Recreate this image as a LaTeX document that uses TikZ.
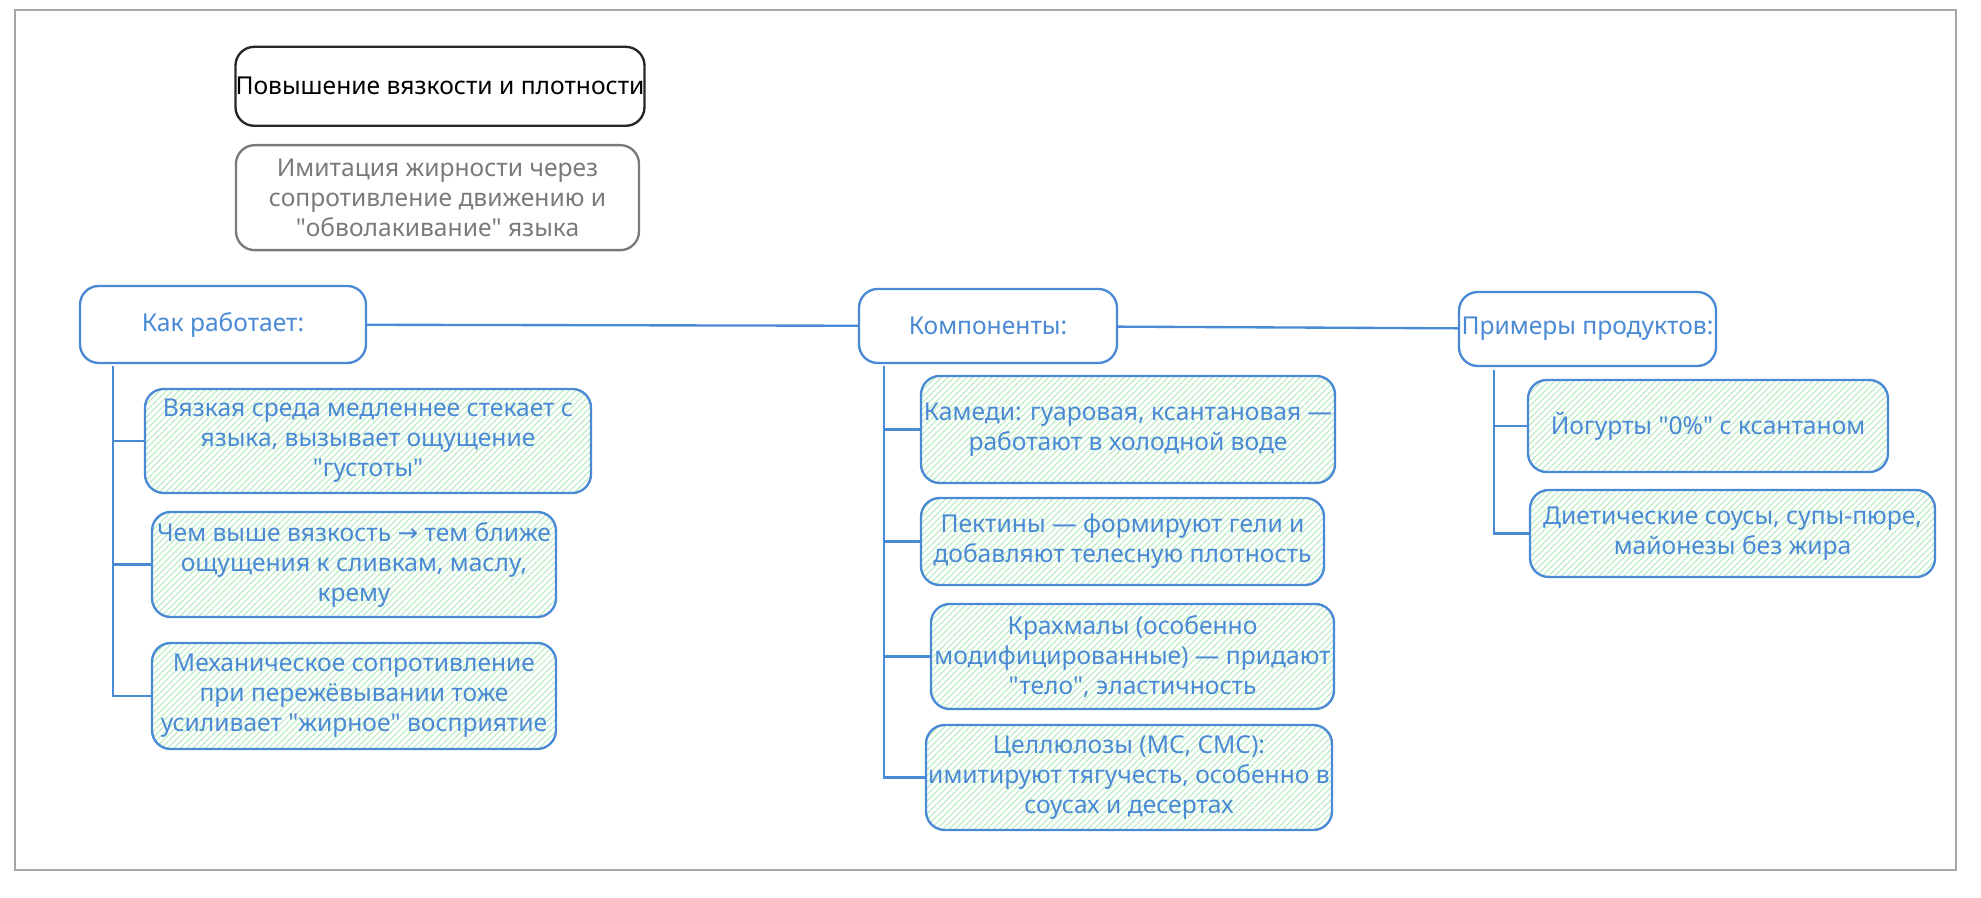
\documentclass[tikz,border=0pt]{standalone}
\usepackage{fontspec}
\setmainfont{Noto Sans}[Ligatures=TeXOff]
\newfontfamily\arrowfont{DejaVu Sans}
\usepackage{xcolor}
\usepackage{tikz}
\usetikzlibrary{patterns.meta}
\definecolor{linkblue}{HTML}{4A8AD4}
\definecolor{hatchgreen}{HTML}{B6EBBE}
\definecolor{notegray}{HTML}{7A7A7A}

\begin{document}
\begin{tikzpicture}[
        box/.style={draw, rounded corners=8pt, line width=1pt, align=center, inner sep=0pt,
                    font=\fontsize{10.5}{12.8}\selectfont},
        head/.style={box, draw=linkblue, text=linkblue, fill=white},
        leaf/.style={box, draw=linkblue, text=linkblue,
                     pattern={Lines[angle=45, distance=1.9pt, line width=0.45pt]}, pattern color=hatchgreen},
        link/.style={draw=linkblue, line width=1pt}
      ]
        \useasboundingbox (0,0) rectangle (29.715,13.455);
        \draw [gray!70, line width=0.8pt] (0.225,0.405) rectangle (29.34,13.305);   %frame

        \node [box, draw=black!85, text=black, minimum width=6.06cm, minimum height=1.185cm]
              (title) at (6.60,12.16) {Повышение вязкости и плотности};          %title
        \node [box, draw=notegray, text=notegray, minimum width=6.045cm, minimum height=1.575cm]
              (note) at (6.5625,10.49) {Имитация жирности через\\сопротивление движению и\\"обволакивание" языка};

        \node [head, minimum width=4.29cm,  minimum height=1.155cm] (how)  at (3.345,8.5875) {Как работает:};      %
        \node [head, minimum width=3.87cm,  minimum height=1.11cm]  (comp) at (14.82,8.565)  {Компоненты:};        %
        \node [head, minimum width=3.855cm, minimum height=1.11cm]  (ex)   at (23.8125,8.52) {Примеры продуктов:}; %
        \draw [link] (how)  -- (comp);                                       %
        \draw [link] (comp) -- (ex);                                         %

        \node [leaf, minimum width=6.69cm, minimum height=1.56cm]  (how1) at (5.52,6.84)
              {Вязкая среда медленнее стекает с\\языка, вызывает ощущение\\"густоты"};
        \node [leaf, minimum width=6.06cm, minimum height=1.575cm] (how2) at (5.31,4.9875)
              {Чем выше вязкость {\arrowfont →} тем ближе\\ощущения к сливкам, маслу,\\крему};
        \node [leaf, minimum width=6.06cm, minimum height=1.59cm]  (how3) at (5.31,3.015)
              {Механическое сопротивление\\при пережёвывании тоже\\усиливает "жирное" восприятие};
        \coordinate (howroot) at (1.695,7.965);                              %left trunk
        \draw [link] (howroot) |- (how3.west);                               %
        \draw [link] (howroot |- how1.west) -- (how1.west);                  %
        \draw [link] (howroot |- how2.west) -- (how2.west);                  %

        \node [leaf, minimum width=6.21cm,  minimum height=1.605cm] (comp1) at (16.92,7.0125)
              {Камеди: гуаровая, ксантановая —\\работают в холодной воде};
        \node [leaf, minimum width=6.045cm, minimum height=1.305cm] (comp2) at (16.8375,5.3325)
              {Пектины — формируют гели и\\добавляют телесную плотность};
        \node [leaf, minimum width=6.045cm, minimum height=1.575cm] (comp3) at (16.9875,3.6075)
              {Крахмалы (особенно\\модифицированные) — придают\\"тело", эластичность};
        \node [leaf, minimum width=6.09cm,  minimum height=1.575cm] (comp4) at (16.935,1.7925)
              {Целлюлозы (MC, CMC):\\имитируют тягучесть, особенно в\\соусах и десертах};
        \coordinate (comproot) at (13.26,7.965);                             %middle trunk
        \draw [link] (comproot) |- (comp4.west);                             %
        \draw [link] (comproot |- comp1.west) -- (comp1.west);               %
        \draw [link] (comproot |- comp2.west) -- (comp2.west);               %
        \draw [link] (comproot |- comp3.west) -- (comp3.west);               %

        \node [leaf, minimum width=5.4cm,   minimum height=1.38cm]  (ex1) at (25.62,7.065)
              {Йогурты "0\%" с ксантаном};
        \node [leaf, minimum width=6.075cm, minimum height=1.305cm] (ex2) at (25.9875,5.4525)
              {Диетические соусы, супы-пюре,\\майонезы без жира};
        \coordinate (exroot) at (22.41,7.905);                               %right trunk
        \draw [link] (exroot) |- (ex2.west);                                 %
        \draw [link] (exroot |- ex1.west) -- (ex1.west);                     %
      \end{tikzpicture}
\end{document}
